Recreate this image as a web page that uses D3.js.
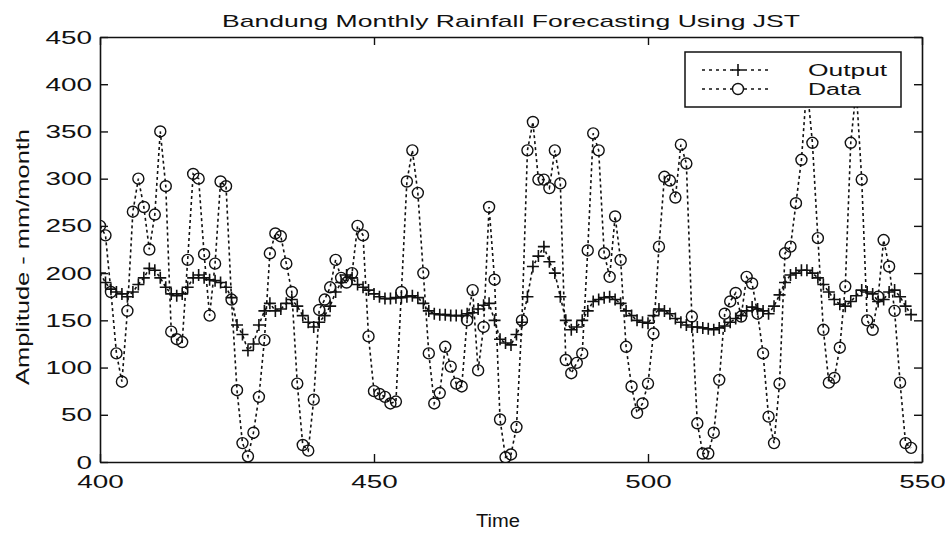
<!DOCTYPE html>
<html>
<head>
<meta charset="utf-8">
<script src="https://cdn.jsdelivr.net/npm/d3@7"></script>
<style>
  body { margin: 0; background: #fff; }
  svg { display: block; }
  text { font-family: "Liberation Sans", Arial, sans-serif; fill: #111; }
</style>
</head>
<body>
<svg id="chart" width="945" height="534"></svg>
<script>
// values, one per month from t = 400
const startTime = 400;
const dataValues = [
  250, 240, 180, 115, 85, 160, 265, 300, 270, 225,
  262, 350, 292, 138, 130, 127, 214, 305, 300, 220,
  155, 210, 297, 292, 172, 76, 20, 6, 31, 69,
  129, 221, 242, 239, 210, 180, 83, 18, 12, 66,
  161, 172, 185, 214, 195, 190, 200, 250, 240, 133,
  75, 72, 69, 62, 64, 180, 297, 330, 285, 200,
  115, 62, 73, 122, 101, 83, 80, 150, 182, 97,
  143, 270, 193, 45, 5, 8, 37, 150, 330, 360,
  299, 299, 290, 330, 295, 108, 94, 105, 115, 224,
  348, 330, 221, 196, 260, 214, 122, 80, 52, 62,
  83, 136, 228, 302, 298, 280, 336, 316, 154, 41,
  9, 9, 31, 87, 157, 170, 179, 154, 196, 189,
  157, 115, 48, 20, 83, 221, 228, 274, 320, 400,
  338, 237, 140, 84, 89, 121, 186, 338, 395, 299,
  150, 140, 175, 235, 207, 160, 84, 20, 15
];
const outputValues = [
  200, 190, 183, 180, 178, 175, 180, 188, 195, 205,
  203, 195, 185, 178, 176, 178, 185, 195, 198, 195,
  193, 192, 190, 185, 174, 145, 135, 118, 125, 145,
  160, 168, 160, 162, 168, 172, 165, 155, 148, 143,
  148, 155, 165, 180, 190, 198, 195, 188, 185, 182,
  178, 175, 173, 173, 174, 174, 175, 176, 174, 168,
  160, 157, 156, 156, 155, 155, 155, 157, 158, 162,
  166, 168, 150, 130, 126, 124, 135, 148, 175, 207,
  218, 228, 212, 200, 175, 150, 140, 143, 150, 160,
  170, 172, 174, 175, 172, 168, 160, 155, 150, 148,
  147, 155, 162, 160, 157, 152, 148, 145, 143, 143,
  142, 141, 140, 142, 144, 148, 152, 155, 160, 164,
  162, 160, 157, 165, 177, 190, 198, 200, 203, 203,
  200, 195, 188, 180, 172, 167, 165, 170, 176, 182,
  180, 178, 170, 172, 180, 182, 175, 165, 156
];
const xTicks = [400, 450, 500, 550];
const yTicks = [0, 50, 100, 150, 200, 250, 300, 350, 400, 450];
const seriesNames = ["Output", "Data"];
const titleText = "Bandung Monthly Rainfall Forecasting Using JST";
const xLabel = "Time";
const yLabel = "Amplitude - mm/month";

const svg = d3.select("#chart");
const plotLeft = 100, plotRight = 922, plotTop = 37, plotBottom = 462;

const x = d3.scaleLinear().domain([400, 550]).range([plotLeft, plotRight]);
const y = d3.scaleLinear().domain([0, 450]).range([plotBottom, plotTop]);

const dataPts = dataValues.map((v, i) => ({ t: startTime + i, v }));
const outPts = outputValues.map((v, i) => ({ t: startTime + i, v }));

// stretched look of the original lettering
function stretch(sel, perChar) {
  sel.attr("textLength", function () { return this.textContent.length * perChar; })
    .attr("lengthAdjust", "spacingAndGlyphs");
}

svg.append("defs").append("clipPath").attr("id", "plotClip")
  .append("rect").attr("x", plotLeft).attr("y", plotTop)
  .attr("width", plotRight - plotLeft).attr("height", plotBottom - plotTop);

const plot = svg.append("g").attr("clip-path", "url(#plotClip)");
const line = d3.line().x(d => x(d.t)).y(d => y(d.v));

// Data series: dashed line with circles
plot.append("path").datum(dataPts)
  .attr("d", line).attr("fill", "none")
  .attr("stroke", "#111").attr("stroke-width", 1.6)
  .attr("stroke-dasharray", "3,3");

plot.selectAll(".dot").data(dataPts).enter()
  .append("circle").attr("class", "dot")
  .attr("cx", d => x(d.t)).attr("cy", d => y(d.v)).attr("r", 5.5)
  .attr("fill", "none").attr("stroke", "#111").attr("stroke-width", 1.4);

// Output series: dashed line with plus markers
plot.append("path").datum(outPts)
  .attr("d", line).attr("fill", "none")
  .attr("stroke", "#111").attr("stroke-width", 1.6)
  .attr("stroke-dasharray", "3,3");

const plusSize = 6;
plot.selectAll(".plus").data(outPts).enter()
  .append("path").attr("class", "plus")
  .attr("d", d => {
    const px = x(d.t), py = y(d.v);
    return `M${px - plusSize},${py}H${px + plusSize}M${px},${py - plusSize}V${py + plusSize}`;
  })
  .attr("stroke", "#111").attr("stroke-width", 1.6);

// axes, ticks pointing inward on all four sides
const axisStyle = g => {
  g.select(".domain").attr("stroke", "#111").attr("stroke-width", 1.6);
  g.selectAll(".tick line").attr("stroke", "#111").attr("stroke-width", 1.4);
};

svg.append("g").attr("transform", `translate(${plotLeft},0)`)
  .call(d3.axisLeft(y).tickValues(yTicks).tickSizeInner(-8).tickSizeOuter(0).tickPadding(8))
  .call(axisStyle)
  .call(g => g.selectAll(".tick text").attr("font-size", 19).call(stretch, 15.5));

svg.append("g").attr("transform", `translate(${plotRight},0)`)
  .call(d3.axisRight(y).tickValues(yTicks).tickSizeInner(-8).tickSizeOuter(0).tickFormat(""))
  .call(axisStyle);

svg.append("g").attr("transform", `translate(0,${plotBottom})`)
  .call(d3.axisBottom(x).tickValues(xTicks).tickSizeInner(-8).tickSizeOuter(0).tickPadding(13))
  .call(axisStyle)
  .call(g => g.selectAll(".tick text").attr("font-size", 19).call(stretch, 15.5));

svg.append("g").attr("transform", `translate(0,${plotTop})`)
  .call(d3.axisTop(x).tickValues(xTicks).tickSizeInner(-8).tickSizeOuter(0).tickFormat(""))
  .call(axisStyle);

// title and axis labels
svg.append("text").attr("x", 511).attr("y", 27)
  .attr("text-anchor", "middle").attr("font-size", 17)
  .attr("textLength", 578).attr("lengthAdjust", "spacingAndGlyphs")
  .text(titleText);

svg.append("text").attr("x", 498).attr("y", 527)
  .attr("text-anchor", "middle").attr("font-size", 18)
  .attr("textLength", 44).attr("lengthAdjust", "spacingAndGlyphs")
  .text(xLabel);

svg.append("text")
  .attr("transform", "translate(29,257) rotate(-90)")
  .attr("text-anchor", "middle").attr("font-size", 19)
  .attr("textLength", 256).attr("lengthAdjust", "spacingAndGlyphs")
  .text(yLabel);

// legend
const legend = svg.append("g");
legend.append("rect").attr("x", 685).attr("y", 52).attr("width", 216).attr("height", 55)
  .attr("fill", "#fff").attr("stroke", "#111").attr("stroke-width", 1.5);

const legendRows = legend.selectAll(".row").data(seriesNames).enter()
  .append("g").attr("class", "row")
  .attr("transform", (d, i) => `translate(0,${70 + i * 19})`);

legendRows.append("line").attr("x1", 702).attr("x2", 768).attr("y1", 0).attr("y2", 0)
  .attr("stroke", "#111").attr("stroke-width", 1.6).attr("stroke-dasharray", "3,4");

legendRows.filter(d => d === "Output").append("path")
  .attr("d", `M${738 - plusSize},0H${738 + plusSize}M738,${-plusSize}V${plusSize}`)
  .attr("stroke", "#111").attr("stroke-width", 1.6);

legendRows.filter(d => d === "Data").append("circle")
  .attr("cx", 738).attr("cy", 0).attr("r", 5.5)
  .attr("fill", "#fff").attr("stroke", "#111").attr("stroke-width", 1.4);

legendRows.append("text").attr("x", 808).attr("y", 6)
  .attr("font-size", 16)
  .text(d => d)
  .call(stretch, 13.2);
</script>
</body>
</html>
